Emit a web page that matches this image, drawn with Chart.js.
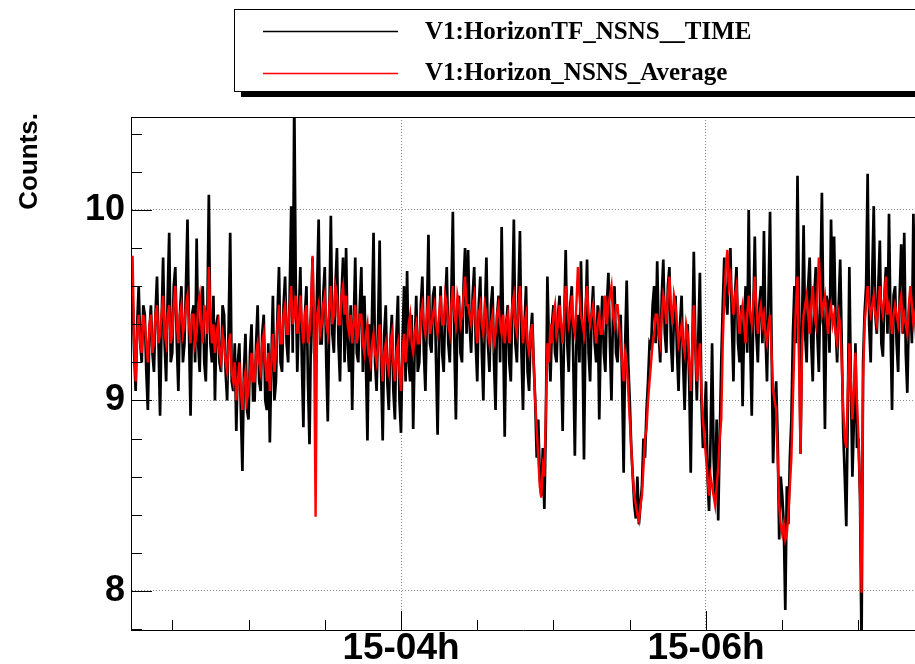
<!DOCTYPE html>
<html>
<head>
<meta charset="utf-8">
<title>V1:Horizon NSNS</title>
<script src="https://cdn.jsdelivr.net/npm/chart.js@4.4.0/dist/chart.umd.min.js"></script>
<style>
  html, body { margin: 0; padding: 0; background: #fff; }
  canvas { display: block; }
</style>
</head>
<body>
<canvas id="grafico" width="915" height="664"></canvas>
<script>
const LEGENDAS = ['V1:HorizonTF_NSNS__TIME', 'V1:Horizon_NSNS_Average'];
const CORES = ['#000000', '#ff0000'];

// eixo x em horas do dia 15, um ponto a cada 0.01 h
const INICIO_H = 2.24;
const PASSO_H = 0.01;
const X_MIN = 2.2295;
const X_MAX = 7.3705;
const Y_MIN = 7.795;
const Y_MAX = 10.488;

const TICKS_X = [4, 6];
const ROTULOS_X = ['15-04h', '15-06h'];
const TICKS_Y = [8, 9, 10];

const SERIE_TIME = [
    9.55, 9.25, 9.05, 9.4, 9.6, 9.3, 9.2, 9.5, 9.45, 9.15, 8.95, 9.35, 9.5, 9.25, 9.15, 9.45, 9.65, 9.3, 8.92, 9.4,
    9.75, 9.3, 9.1, 9.55, 9.88, 9.2, 9.25, 9.6, 9.7, 9.3, 9.05, 9.45, 9.6, 9.2, 9.3, 9.6, 9.95, 9.35, 8.92, 9.45,
    9.5, 9.2, 9.85, 9.3, 9.15, 9.5, 9.6, 9.2, 9.1, 9.45, 10.08, 9.3, 9.2, 9.55, 9.0, 9.4, 9.45, 9.2, 9.15, 9.5,
    9.45, 9.15, 9.0, 9.4, 9.88, 9.1, 9.05, 9.3, 8.84, 9.2, 9.3, 8.95, 8.63, 9.15, 9.35, 8.95, 8.9, 9.25, 9.4, 9.0,
    9.0, 9.3, 9.5, 9.1, 9.05, 9.35, 9.45, 9.0, 8.95, 9.3, 8.78, 9.2, 9.55, 9.0, 9.1, 9.45, 9.7, 9.2, 9.15, 9.5,
    9.65, 9.3, 9.2, 9.55, 10.02, 9.25, 10.6, 9.6, 9.15, 9.45, 9.7, 9.2, 8.86, 9.45, 9.6, 9.1, 8.77, 9.4, 9.75, 9.25,
    9.2, 9.6, 9.95, 9.3, 9.3, 9.55, 9.7, 9.2, 8.89, 9.45, 9.97, 9.35, 9.25, 9.6, 9.8, 9.3, 9.1, 9.55, 9.75, 9.2,
    9.8, 9.3, 9.15, 9.5, 8.95, 9.4, 9.75, 9.25, 9.2, 9.5, 9.7, 9.15, 9.55, 9.2, 8.79, 9.4, 9.1, 9.45, 9.88, 9.2,
    9.05, 9.4, 9.84, 9.15, 8.79, 9.35, 9.5, 9.1, 8.95, 9.3, 9.45, 9.05, 8.9, 9.35, 9.55, 9.0, 8.83, 9.3, 9.6, 9.1,
    9.68, 9.2, 9.1, 9.45, 8.85, 9.3, 9.55, 9.15, 9.2, 9.5, 9.65, 9.25, 9.05, 9.45, 9.87, 9.3, 9.25, 9.55, 9.6, 9.2,
    8.82, 9.35, 9.6, 9.25, 9.15, 9.5, 9.7, 9.3, 9.2, 9.55, 9.99, 9.3, 8.9, 9.45, 9.55, 9.25, 9.2, 9.6, 9.8, 9.35,
    9.79, 9.4, 9.25, 9.55, 9.7, 9.3, 9.1, 9.5, 9.65, 9.25, 9.0, 9.45, 9.75, 9.3, 9.15, 9.5, 9.6, 9.2, 8.95, 9.45,
    9.55, 9.2, 9.91, 9.35, 8.81, 9.4, 9.5, 9.2, 9.1, 9.5, 9.95, 9.3, 9.2, 9.55, 9.89, 9.25, 8.95, 9.4, 9.6, 9.15,
    9.05, 9.35, 9.46, 9.2, 9.0, 8.7, 8.9, 8.6, 8.5, 8.75, 8.43, 8.9, 9.65, 9.3, 9.1, 9.4, 9.5, 9.25, 9.2, 9.45,
    9.55, 9.2, 8.84, 9.4, 9.79, 9.3, 9.15, 9.5, 9.6, 9.2, 8.71, 9.3, 9.45, 9.2, 9.73, 9.3, 8.69, 9.4, 9.74, 9.25,
    9.1, 9.45, 9.6, 9.3, 9.2, 9.5, 8.9, 9.35, 9.55, 9.25, 9.15, 9.5, 9.67, 9.3, 9.0, 9.45, 9.6, 9.25, 9.2, 9.4,
    9.45, 9.1, 8.62, 9.3, 9.63, 9.2, 9.0, 8.75, 8.6, 8.45, 8.38, 8.6, 8.35, 8.45, 8.55, 8.8, 8.7, 8.95, 9.1, 9.3,
    9.28, 9.5, 9.6, 9.3, 9.73, 9.35, 9.2, 9.55, 9.74, 9.35, 9.25, 9.6, 9.7, 9.3, 9.15, 9.45, 9.55, 9.25, 9.05, 9.4,
    9.55, 9.2, 8.95, 9.3, 9.4, 9.1, 8.62, 9.25, 9.78, 9.3, 9.0, 9.35, 9.67, 9.0, 8.75, 8.9, 9.1, 8.6, 8.42, 8.8,
    9.3, 8.7, 8.5, 8.9, 8.37, 8.8, 9.2, 9.5, 9.75, 9.55, 9.45, 9.7, 9.8, 9.4, 9.1, 9.55, 9.7, 9.3, 9.2, 9.5,
    8.97, 9.4, 9.6, 9.25, 10.0, 9.3, 8.92, 9.45, 9.86, 9.35, 9.2, 9.5, 9.6, 9.3, 9.89, 9.35, 9.1, 9.55, 9.99, 9.3,
    8.67, 8.95, 9.1, 8.8, 8.27, 8.6, 8.5, 8.35, 7.9, 8.55, 8.35, 8.7, 8.9, 9.35, 9.6, 9.3, 10.18, 9.5, 8.72, 9.4,
    9.92, 9.35, 9.2, 9.6, 9.75, 9.3, 9.1, 9.55, 9.7, 9.35, 9.15, 9.6, 10.09, 9.4, 8.85, 9.55, 9.5, 9.25, 9.95, 9.5,
    9.86, 9.4, 9.2, 9.5, 9.74, 9.3, 8.83, 8.6, 8.34, 8.95, 9.7, 9.1, 8.6, 8.9, 9.3, 8.75, 8.8, 8.5, 7.7, 9.2,
    9.46, 9.6, 10.19, 9.4, 9.2, 9.65, 10.02, 9.45, 9.35, 9.6, 9.84, 9.3, 9.23, 9.55, 9.7, 9.35, 9.98, 9.4, 8.95, 9.55,
    9.6, 9.3, 9.15, 9.55, 9.82, 9.35, 9.88, 9.25, 9.04, 9.45, 9.55, 9.3, 9.98, 9.5, 9.3
];

const SERIE_AVG = [
    9.76, 9.3, 9.1, 9.35, 9.45, 9.3, 9.25, 9.45, 9.4, 9.3, 9.2, 9.4, 9.45, 9.25, 9.3, 9.45, 9.5, 9.3, 9.35, 9.45,
    9.55, 9.35, 9.3, 9.45, 9.5, 9.3, 9.35, 9.5, 9.6, 9.4, 9.3, 9.45, 9.5, 9.35, 9.4, 9.5, 9.55, 9.4, 9.3, 9.45,
    9.45, 9.3, 9.35, 9.5, 9.55, 9.4, 9.3, 9.5, 9.45, 9.35, 9.7, 9.45, 9.3, 9.4, 9.25, 9.35, 9.4, 9.25, 9.2, 9.35,
    9.3, 9.2, 9.15, 9.3, 9.35, 9.15, 9.1, 9.2, 9.0, 9.1, 9.2, 9.05, 8.95, 9.1, 9.15, 9.0, 9.05, 9.15, 9.25, 9.1,
    9.1, 9.25, 9.3, 9.2, 9.15, 9.3, 9.35, 9.2, 9.1, 9.25, 9.05, 9.2, 9.35, 9.15, 9.25, 9.4, 9.5, 9.3, 9.3, 9.45,
    9.5, 9.35, 9.35, 9.5, 9.6, 9.4, 9.45, 9.55, 9.35, 9.4, 9.55, 9.4, 9.3, 9.45, 9.5, 9.3, 9.35, 9.5, 9.76, 9.35,
    8.39, 9.45, 9.5, 9.35, 9.4, 9.5, 9.55, 9.4, 9.35, 9.5, 9.6, 9.4, 9.45, 9.6, 9.55, 9.4, 9.4, 9.55, 9.6, 9.45,
    9.55, 9.4, 9.35, 9.45, 9.3, 9.4, 9.5, 9.3, 9.35, 9.45, 9.45, 9.3, 9.25, 9.35, 9.4, 9.25, 9.2, 9.3, 9.35, 9.25,
    9.2, 9.3, 9.4, 9.25, 9.1, 9.25, 9.3, 9.2, 9.15, 9.3, 9.35, 9.2, 9.1, 9.25, 9.3, 9.15, 9.05, 9.25, 9.35, 9.2,
    9.3, 9.4, 9.45, 9.3, 9.25, 9.35, 9.4, 9.3, 9.3, 9.45, 9.5, 9.4, 9.35, 9.45, 9.55, 9.35, 9.4, 9.45, 9.5, 9.4,
    9.35, 9.45, 9.55, 9.4, 9.4, 9.55, 9.5, 9.4, 9.35, 9.5, 9.6, 9.45, 9.4, 9.55, 9.5, 9.4, 9.45, 9.55, 9.65, 9.5,
    9.5, 9.45, 9.4, 9.5, 9.55, 9.4, 9.3, 9.45, 9.5, 9.4, 9.35, 9.5, 9.45, 9.35, 9.3, 9.4, 9.45, 9.3, 9.35, 9.45,
    9.5, 9.4, 9.35, 9.45, 9.3, 9.4, 9.45, 9.3, 9.4, 9.5, 9.55, 9.4, 9.35, 9.5, 9.6, 9.45, 9.3, 9.4, 9.45, 9.3,
    9.25, 9.35, 9.4, 9.2, 9.0, 8.85, 8.7, 8.55, 8.49, 8.65, 8.6, 8.95, 9.3, 9.2, 9.4, 9.3, 9.45, 9.5, 9.35, 9.4,
    9.5, 9.4, 9.3, 9.45, 9.6, 9.5, 9.4, 9.45, 9.55, 9.4, 9.35, 9.5, 9.7, 9.55, 9.45, 9.4, 9.35, 9.5, 9.6, 9.45,
    9.4, 9.45, 9.5, 9.4, 9.3, 9.4, 9.45, 9.35, 9.35, 9.45, 9.55, 9.4, 9.5, 9.55, 9.6, 9.45, 9.4, 9.5, 9.5, 9.4,
    9.3, 9.2, 9.1, 9.25, 9.2, 9.05, 8.9, 8.75, 8.6, 8.5, 8.45, 8.4, 8.37, 8.45, 8.5, 8.65, 8.8, 8.85, 9.0, 9.1,
    9.2, 9.3, 9.35, 9.45, 9.45, 9.35, 9.3, 9.45, 9.55, 9.5, 9.4, 9.55, 9.65, 9.5, 9.4, 9.55, 9.5, 9.4, 9.3, 9.35,
    9.4, 9.3, 9.25, 9.4, 9.35, 9.2, 9.05, 9.3, 9.5, 9.3, 9.1, 9.2, 9.3, 9.05, 8.9, 8.8, 8.7, 8.6, 8.5, 8.6,
    8.55, 8.5, 8.45, 8.55, 8.65, 8.8, 8.9, 9.3, 9.55, 9.7, 9.79, 9.6, 9.65, 9.55, 9.45, 9.55, 9.6, 9.45, 9.35, 9.45,
    9.5, 9.4, 9.3, 9.45, 9.55, 9.45, 9.4, 9.5, 9.65, 9.5, 9.35, 9.45, 9.5, 9.4, 9.45, 9.35, 9.3, 9.4, 9.45, 9.25,
    9.05, 9.0, 8.95, 8.7, 8.45, 8.35, 8.3, 8.35, 8.27, 8.3, 8.4, 8.55, 8.7, 9.0, 9.3, 9.5, 9.65, 9.2, 8.72, 9.3,
    9.45, 9.5, 9.55, 9.45, 9.35, 9.5, 9.6, 9.45, 9.4, 9.55, 9.75, 9.6, 9.45, 9.5, 9.55, 9.45, 9.35, 9.45, 9.5, 9.4,
    9.45, 9.35, 9.3, 9.45, 9.4, 9.2, 8.95, 8.8, 8.75, 9.05, 9.3, 9.1, 8.9, 9.05, 9.25, 9.0, 8.8, 8.5, 7.99, 9.1,
    9.4, 9.5, 9.6, 9.5, 9.45, 9.5, 9.55, 9.45, 9.4, 9.5, 9.6, 9.5, 9.45, 9.55, 9.65, 9.45, 9.5, 9.45, 9.35, 9.45,
    9.5, 9.45, 9.4, 9.5, 9.55, 9.4, 9.45, 9.4, 9.35, 9.5, 9.6, 9.5, 9.4, 9.45, 9.5
];

const FONTE_SANS = '"Liberation Sans", Arial, Helvetica, sans-serif';
const FONTE_SERIF = '"Liberation Serif", "Times New Roman", serif';

function pontos(valores) {
    return valores.map(function(v, i) {
        return { x: INICIO_H + i * PASSO_H, y: v };
    });
}

// moldura estilo ROOT: ticks, linha de cima, legenda e titulo do eixo y
const moldura = {
    id: 'moldura',
    afterDraw: function(chart) {
        const ctx = chart.ctx;
        const a = chart.chartArea;
        const sx = chart.scales.x;
        const sy = chart.scales.y;

        ctx.save();
        ctx.strokeStyle = '#000';
        ctx.lineWidth = 1;
        ctx.beginPath();
        ctx.moveTo(a.left, a.top + 0.5);
        ctx.lineTo(a.right, a.top + 0.5);

        for (let k = 0; k <= 13; k++) {
            const v = 7.8 + k * 0.2;
            const yy = Math.round(sy.getPixelForValue(v)) + 0.5;
            const maior = Math.abs(v - Math.round(v)) < 0.01;
            ctx.moveTo(a.left, yy);
            ctx.lineTo(a.left + (maior ? 21 : 11), yy);
        }
        for (let k = 0; k <= 9; k++) {
            const t = 2.5 + k * 0.5;
            const xx = Math.round(sx.getPixelForValue(t)) + 0.5;
            const maior = t % 2 === 0;
            ctx.moveTo(xx, a.bottom);
            ctx.lineTo(xx, a.bottom - (maior ? 19 : 10));
        }
        ctx.stroke();

        // legenda
        ctx.fillStyle = '#000';
        ctx.fillRect(241, 92, 700, 5);
        ctx.fillStyle = '#fff';
        ctx.fillRect(234.5, 9.5, 700, 82);
        ctx.strokeStyle = '#000';
        ctx.strokeRect(234.5, 9.5, 700, 82);

        const linhasY = [31.5, 73.5];
        const textoY = [39, 80];
        ctx.font = 'bold 25px ' + FONTE_SERIF;
        ctx.textAlign = 'left';
        ctx.textBaseline = 'alphabetic';
        ctx.lineWidth = 1.3;
        for (let k = 0; k < LEGENDAS.length; k++) {
            ctx.strokeStyle = CORES[k];
            ctx.beginPath();
            ctx.moveTo(263, linhasY[k]);
            ctx.lineTo(398, linhasY[k]);
            ctx.stroke();
            ctx.fillStyle = '#000';
            ctx.fillText(LEGENDAS[k], 425, textoY[k]);
        }

        // titulo do eixo y
        ctx.translate(37, 113);
        ctx.rotate(-Math.PI / 2);
        ctx.font = 'bold 26px ' + FONTE_SANS;
        ctx.textAlign = 'right';
        ctx.fillText('Counts.', 0, 0);
        ctx.restore();
    }
};

function carregarGrafico() {
    new Chart(document.getElementById('grafico'), {
        type: 'line',
        data: {
            datasets: [
                {
                    label: LEGENDAS[1],
                    data: pontos(SERIE_AVG),
                    borderColor: CORES[1],
                    borderWidth: 2.4,
                    pointRadius: 0,
                    tension: 0,
                    fill: false,
                    order: 0
                },
                {
                    label: LEGENDAS[0],
                    data: pontos(SERIE_TIME),
                    borderColor: CORES[0],
                    borderWidth: 2.7,
                    pointRadius: 0,
                    tension: 0,
                    fill: false,
                    order: 1
                }
            ]
        },
        options: {
            responsive: false,
            animation: false,
            devicePixelRatio: 1,
            layout: { padding: { top: 117, left: 0, right: 0, bottom: 0 } },
            plugins: {
                legend: { display: false },
                tooltip: { enabled: false }
            },
            scales: {
                x: {
                    type: 'linear',
                    min: X_MIN,
                    max: X_MAX,
                    afterBuildTicks: function(s) { s.ticks = TICKS_X.map(function(v) { return { value: v }; }); },
                    afterFit: function(s) { s.height = 34; },
                    ticks: {
                        callback: function(v, i) { return ROTULOS_X[i]; },
                        font: { family: FONTE_SANS, size: 37, weight: 'bold' },
                        color: '#000',
                        padding: -3,
                        maxRotation: 0,
                        autoSkip: false
                    },
                    grid: { color: '#8a8a8a', lineWidth: 1, drawTicks: false },
                    border: { display: true, color: '#000', width: 1, dash: [1, 2] }
                },
                y: {
                    min: Y_MIN,
                    max: Y_MAX,
                    afterBuildTicks: function(s) { s.ticks = TICKS_Y.map(function(v) { return { value: v }; }); },
                    afterFit: function(s) { s.width = 131; },
                    ticks: {
                        font: { family: FONTE_SANS, size: 36, weight: 'bold' },
                        color: '#000',
                        padding: 6
                    },
                    grid: { color: '#8a8a8a', lineWidth: 1, drawTicks: false },
                    border: { display: true, color: '#000', width: 1, dash: [1, 2] }
                }
            }
        },
        plugins: [moldura]
    });
}

carregarGrafico();
</script>
</body>
</html>
